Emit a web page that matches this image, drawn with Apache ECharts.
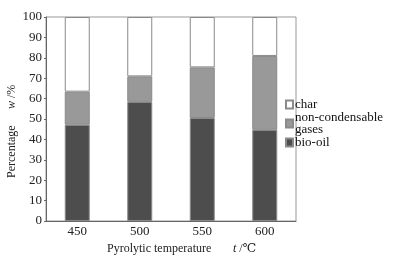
<!DOCTYPE html>
<html><head><meta charset="utf-8">
<script src="https://cdn.jsdelivr.net/npm/echarts@6/dist/echarts.min.js"></script>
<style>html,body{margin:0;padding:0;background:#fff}#c{width:393px;height:263px}</style>
</head><body><div id="c"></div>
<script>
var categories = ['450', '500', '550', '600'];
var bioOil = [47.2, 58.4, 50.5, 44.7];
var gases = [16.2, 12.5, 24.8, 36.2];
var charVals = [36.6, 29.1, 24.7, 19.1];
var yTicks = [0, 10, 20, 30, 40, 50, 60, 70, 80, 90, 100];

var font = '"Liberation Serif", "DejaVu Serif", serif';
var chart = echarts.init(document.getElementById('c'));
function bar(name, data, color) {
  return {
    name: name, type: 'bar', stack: 'a', data: data, barWidth: '40%',
    itemStyle: { color: color, borderColor: '#8a8a8a', borderWidth: 1 },
    emphasis: { disabled: true }
  };
}
var it = { fontStyle: 'italic', fontFamily: font, fontSize: 12 };
chart.setOption({
  animation: false,
  textStyle: { fontFamily: font },
  grid: { left: 46, right: 97, top: 17, bottom: 42, show: true, borderColor: '#999', borderWidth: 1, backgroundColor: 'transparent' },
  xAxis: {
    type: 'category', data: categories,
    axisLine: { lineStyle: { color: '#666' } },
    axisTick: { show: false },
    axisLabel: { color: '#222', fontSize: 13, fontFamily: font, margin: 4 }
  },
  yAxis: {
    type: 'value', min: 0, max: 100, interval: 10,
    splitLine: { show: false },
    axisLine: { show: true, lineStyle: { color: '#666' } },
    axisTick: { show: true, length: 2, lineStyle: { color: '#666' } },
    axisLabel: { color: '#222', fontSize: 13, fontFamily: font, margin: 4,
      formatter: function (v) { return yTicks.indexOf(v) >= 0 ? String(v) : ''; } }
  },
  legend: {
    orient: 'vertical', left: 280, top: 93,
    data: ['char', 'non-condensable\ngases', 'bio-oil'],
    itemWidth: 7, itemHeight: 8, itemGap: 0,
    icon: 'rect',
    textStyle: { fontFamily: font, fontSize: 13, color: '#111', lineHeight: 12, padding: [0, 0, 0, -3] },
    selectedMode: false
  },
  graphic: [
    { type: 'text', left: 107, top: 243, style: { text: 'Pyrolytic temperature', font: '12px ' + font, fill: '#222' } },
    { type: 'text', left: 233, top: 243, style: { text: '{i|t} /℃', font: '12px ' + font, fill: '#222', rich: { i: it } } },
    { type: 'text', x: 6, y: 178, rotation: Math.PI / 2, style: { text: 'Percentage', font: '12px ' + font, fill: '#222' } },
    { type: 'text', x: 6, y: 109, rotation: Math.PI / 2, style: { text: '{i|w} /%', font: '12px ' + font, fill: '#222', rich: { i: it } } }
  ],
  series: [
    bar('bio-oil', bioOil, '#4d4d4d'),
    bar('non-condensable\ngases', gases, '#999999'),
    bar('char', charVals, '#ffffff')
  ]
});
</script></body></html>
